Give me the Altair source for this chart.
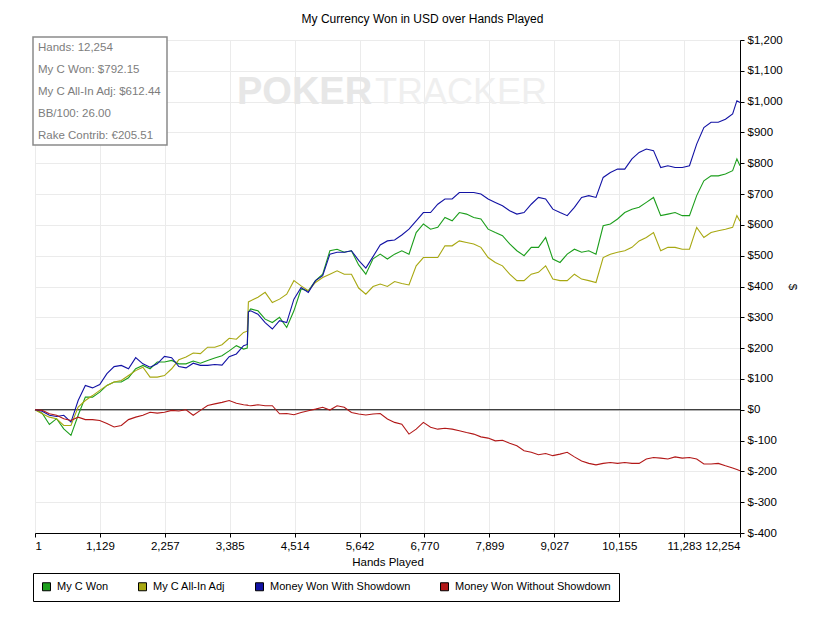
import altair as alt
import pandas as pd

HANDS = [1, 126, 251, 376, 501, 626, 751, 876, 1001, 1126, 1251, 1376, 1501, 1626, 1751, 1876,
         2001, 2126, 2251, 2376, 2501, 2626, 2751, 2876, 3001, 3126, 3251, 3376, 3501, 3626, 3690,
         3710, 3751,
         3876, 4001, 4126, 4251, 4376, 4501, 4626, 4751, 4876, 5001, 5126, 5251, 5376, 5501, 5626,
         5751, 5876, 6001, 6126, 6251, 6376, 6501, 6626, 6751, 6876, 7001, 7126, 7251, 7376, 7501,
         7626, 7751, 7876, 8001, 8126, 8251, 8376, 8501, 8626, 8751, 8876, 9001, 9126, 9251, 9376,
         9501, 9626, 9751, 9876, 10001, 10126, 10251, 10376, 10501, 10626, 10751, 10876, 11001,
         11126, 11251, 11376, 11501, 11626, 11751, 11876, 12001, 12126, 12200, 12254]

MY_C_WON = [0, -11, -48, -29, -62, -83, -18, 41, 41, 57, 79, 90, 90, 104, 133, 144, 133, 155, 155,
            160, 149, 149, 158, 151, 160, 168, 175, 191, 208, 197, 200, 318, 327, 321, 294, 283, 300,
            267, 321,
            392, 386, 419, 440, 516, 521, 511, 516, 470, 440, 490, 505, 489, 505, 516, 505, 575, 603,
            586, 592, 624, 613, 640, 635, 624, 619, 586, 575, 565, 538, 516, 500, 527, 527, 559, 489,
            478, 505, 521, 511, 516, 505, 597, 603, 619, 640, 651, 657, 673, 689, 630, 635, 640, 630,
            630, 695, 743, 759, 759, 765, 776, 814, 792]

ALL_IN_ADJ = [0, -13, -24, -29, -51, -51, 9, 30, 46, 63, 79, 90, 95, 111, 127, 138, 106, 106, 111,
              133, 162, 171, 184, 182, 203, 203, 211, 232, 229, 251, 255, 350, 354, 365, 381, 348,
              359, 375,
              419, 402, 386, 413, 429, 440, 451, 440, 440, 395, 375, 400, 408, 400, 416, 410, 405,
              467, 494, 494, 494, 532, 532, 548, 543, 538, 527, 494, 478, 467, 440, 419, 419, 440,
              446, 467, 424, 419, 419, 440, 424, 419, 413, 494, 505, 511, 516, 527, 548, 559, 575,
              516, 527, 527, 521, 521, 592, 559, 575, 581, 586, 592, 630, 612]

WITH_SHOWDOWN = [0, -5, -18, -22, -18, -40, 30, 79, 71, 82, 117, 140, 144, 133, 169, 149, 138, 149,
                 173, 169, 140, 136, 151, 144, 144, 147, 145, 172, 181, 208, 212, 318, 321, 310, 283,
                 262, 289,
                 283, 359, 397, 381, 419, 435, 505, 511, 511, 516, 485, 460, 497, 535, 548, 551, 567,
                 586, 613, 640, 640, 667, 684, 684, 705, 705, 705, 700, 684, 673, 662, 646, 635, 640,
                 667, 689, 684, 651, 640, 630, 657, 689, 695, 689, 754, 770, 781, 781, 814, 835, 846,
                 841, 786, 792, 786, 786, 792, 862, 916, 933, 933, 943, 960, 1003, 997]

WITHOUT_SHOWDOWN = [0, -2, -13, -18, -29, -35, -24, -32, -32, -35, -45, -56, -51, -32, -24, -18, -8,
                    -11, -8, -2, -4, 0, -18, -2, 14, 19, 24, 30, 21, 16, 15, 14, 13, 16, 13, 13, -13,
                    -12,
                    -16, -9, -3, 2, 8, -1, 13, 8, -9, -14, -17, -14, -12, -30, -41, -47, -79, -63,
                    -41, -57, -63, -60, -63, -68, -74, -79, -88, -92, -101, -99, -109, -117, -133,
                    -138, -146, -142, -149, -144, -138, -153, -166, -174, -179, -174, -171, -174,
                    -171, -174, -174, -160, -155, -157, -160, -153, -157, -155, -160, -176, -176,
                    -174, -182, -189, -194, -198]

SERIES = ["My C Won", "My C All-In Adj", "Money Won With Showdown", "Money Won Without Showdown"]
COLORS = ["#1c9e1c", "#a8a812", "#1212a4", "#b21818"]
X_TICKS = [1, 1129, 2257, 3385, 4514, 5642, 6770, 7899, 9027, 10155, 11283, 12254]
Y_TICKS = list(range(-400, 1201, 100))
INFO = ["Hands: 12,254", "My C Won: $792.15", "My C All-In Adj: $612.44", "BB/100: 26.00",
        "Rake Contrib: €205.51"]
TITLE = "My Currency Won in USD over Hands Played"

FONT = "Liberation Sans, Arial, Helvetica, sans-serif"

rows = []
for name, vals in zip(SERIES, [MY_C_WON, ALL_IN_ADJ, WITH_SHOWDOWN, WITHOUT_SHOWDOWN]):
    for h, v in zip(HANDS, vals):
        rows.append({"hand": h, "value": v, "series": name})
df = pd.DataFrame(rows)
one = pd.DataFrame({"a": [0]})
zero_df = pd.DataFrame({"value": [0]})
# legend helper rows: no valid value, so nothing is drawn, only the legend
leg_df = pd.DataFrame({"entry": SERIES, "hand": [None] * 4, "value": [None] * 4})

x_enc = alt.X("hand:Q",
              scale=alt.Scale(domain=[1, 12254], nice=False, zero=False),
              axis=alt.Axis(values=X_TICKS, format=",d", title="Hands Played", grid=True,
                            gridColor="#ebebeb", tickSize=4, labelPadding=3, titlePadding=5,
                            labelOverlap=False))
y_enc = alt.Y("value:Q",
              scale=alt.Scale(domain=[-400, 1200], nice=False, zero=False),
              axis=alt.Axis(orient="right", values=Y_TICKS, grid=True, gridColor="#ebebeb",
                            labelExpr="datum.value < 0 ? '$-' + format(-datum.value, ',d') : '$' + format(datum.value, ',d')",
                            title="$", titleAngle=90, tickSize=4, labelPadding=3,
                            labelOverlap=False))

legend = alt.Legend(
    orient="none", legendX=-2, legendY=533, direction="horizontal", columns=4,
    title=None, symbolType="square", symbolSize=64, symbolStrokeWidth=1,
    symbolStrokeColor="black", symbolOpacity=1, labelLimit=300,
    labelOffset=5, columnPadding=27, padding=8, strokeColor="black", fillColor="white",
    labelFontSize=11, labelFont=FONT, labelColor="black",
)

wm1 = alt.Chart(one).mark_text(text="POKER", font=FONT, fontSize=38, fontWeight="bold",
                               color="#e7e7e7", align="left", baseline="alphabetic").encode(
    x=alt.value(202), y=alt.value(64))
wm2 = alt.Chart(one).mark_text(text="TRACKER", font=FONT, fontSize=36, fontWeight="normal",
                               color="#efefef", align="left", baseline="alphabetic").encode(
    x=alt.value(340), y=alt.value(64))

zero = alt.Chart(zero_df).mark_rule(color="black", strokeWidth=1).encode(y=y_enc)

lines = alt.Chart(df).mark_line(strokeWidth=1.1, interpolate="linear").encode(
    x=x_enc, y=y_enc,
    color=alt.Color("series:N", scale=alt.Scale(domain=SERIES, range=COLORS), legend=None),
    order="hand:Q",
)

legend_layer = alt.Chart(leg_df).mark_square(filled=True, stroke="black", strokeWidth=1,
                                             opacity=1).encode(
    x=x_enc, y=y_enc,
    fill=alt.Fill("entry:N", scale=alt.Scale(domain=SERIES, range=COLORS), legend=legend),
)

box = alt.Chart(one).mark_rect(fill="white", stroke="#8a8a8a", strokeWidth=1.5).encode(
    x=alt.value(-2), x2=alt.value(132), y=alt.value(-3), y2=alt.value(105))
info = alt.Chart(one).mark_text(text="\n".join(INFO), lineBreak="\n", lineHeight=22,
                                font=FONT, fontSize=11.5, color="#7d7d7d", align="left",
                                baseline="middle").encode(x=alt.value(3), y=alt.value(8))

chart = alt.layer(wm1, wm2, zero, lines, legend_layer, box, info).properties(
    width=705, height=493,
    autosize=alt.AutoSizeParams(type="none"),
    padding={"left": 27, "top": 32, "right": 68, "bottom": 76},
    title=alt.TitleParams(TITLE, fontSize=12, fontWeight="normal", font=FONT, color="black",
                          offset=8, dx=35),
).resolve_scale(color="independent", fill="independent").configure_view(
    stroke="black", strokeWidth=1).configure_axis(
    domainColor="black", tickColor="black", labelColor="black", labelFont=FONT,
    labelFontSize=11.5, titleFont=FONT, titleFontSize=11.5, titleFontWeight="normal",
    titleColor="black", labelOverlap=False,
)

chart.save("out.html", embed_options={"renderer": "svg", "actions": False})
